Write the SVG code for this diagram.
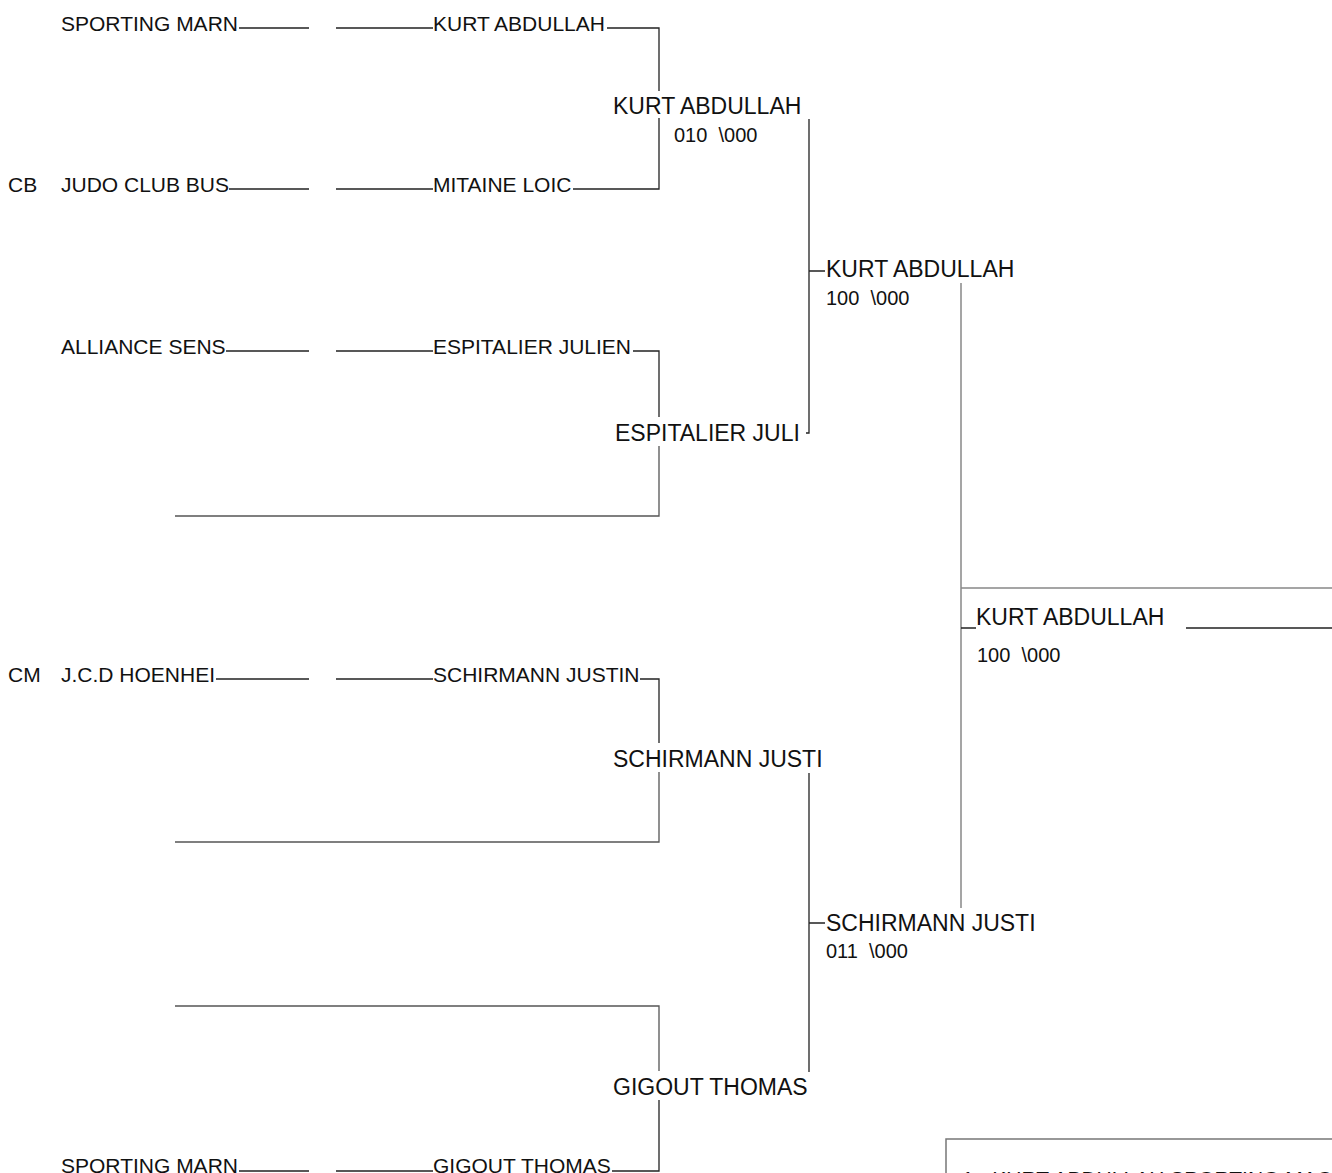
<svg xmlns="http://www.w3.org/2000/svg" width="1332" height="1173" viewBox="0 0 1332 1173">
<style>
text{font-family:"Liberation Sans",Arial,sans-serif;fill:#111}
.s{font-size:21px}
.b{font-size:23px}
.sc{font-size:20px;white-space:pre}
.ln{stroke:#222;stroke-width:1.3;fill:none}
.lg{stroke:#555;stroke-width:1.3;fill:none}
.lt{stroke:#888;stroke-width:1.5;fill:none}
</style>
<rect width="1332" height="1173" fill="#fff"/>
<g id="connectors">
<path class="ln" d="M239,28 H309 M336,28 H433 M607,28 H659 V91"/>
<path class="ln" d="M659,118 V189 H573 M336,189 H433 M229,189 H309"/>
<path class="ln" d="M226,351 H309 M336,351 H433 M633,351 H659 V417"/>
<path class="lg" d="M659,446 V516 H175"/>
<path class="ln" d="M216,679 H309 M336,679 H433 M640,679 H659 V743"/>
<path class="lg" d="M659,772 V842 H175"/>
<path class="lg" d="M175,1006 H659 V1071"/>
<path class="ln" d="M659,1100 V1171 H612 M336,1171 H433 M239,1171 H309"/>
<path class="ln" d="M809,119 V433 H806 M809,271 H825"/>
<path class="ln" d="M809,773 V1072 M809,923 H825"/>
<path class="lt" d="M961,283 V908 M961,588 H1332"/>
<path class="ln" d="M961,628 H976 M1186,628 H1332"/>
</g>
<g id="club-1"><text class="s" x="61" y="31">SPORTING MARN</text></g>
<g id="club-2"><text class="s" x="8" y="192">CB</text><text class="s" x="61" y="192">JUDO CLUB BUS</text></g>
<g id="club-3"><text class="s" x="61" y="354">ALLIANCE SENS</text></g>
<g id="club-4"><text class="s" x="8" y="682">CM</text><text class="s" x="61" y="682">J.C.D HOENHEI</text></g>
<g id="club-5"><text class="s" x="61" y="1173">SPORTING MARN</text></g>
<g id="player-1"><text class="s" x="433" y="31">KURT ABDULLAH</text></g>
<g id="player-2"><text class="s" x="433" y="192">MITAINE LOIC</text></g>
<g id="player-3"><text class="s" x="433" y="354">ESPITALIER JULIEN</text></g>
<g id="player-4"><text class="s" x="433" y="682">SCHIRMANN JUSTIN</text></g>
<g id="player-5"><text class="s" x="433" y="1173">GIGOUT THOMAS</text></g>
<g id="r1-winner-1"><text class="b" x="613" y="114">KURT ABDULLAH</text><text class="sc" x="674" y="142">010  \000</text></g>
<g id="r1-winner-2"><text class="b" x="615" y="441">ESPITALIER JULI</text></g>
<g id="r1-winner-3"><text class="b" x="613" y="767">SCHIRMANN JUSTI</text></g>
<g id="r1-winner-4"><text class="b" x="613" y="1095">GIGOUT THOMAS</text></g>
<g id="r2-winner-1"><text class="b" x="826" y="277">KURT ABDULLAH</text><text class="sc" x="826" y="305">100  \000</text></g>
<g id="r2-winner-2"><text class="b" x="826" y="931">SCHIRMANN JUSTI</text><text class="sc" x="826" y="958">011  \000</text></g>
<g id="final-winner"><text class="b" x="976" y="625">KURT ABDULLAH</text><text class="sc" x="977" y="662">100  \000</text></g>
<g id="podium"><rect x="946" y="1139" width="500" height="100" fill="none" stroke="#777" stroke-width="1.5"/><text class="s" x="962" y="1186">1 - KURT ABDULLAH SPORTING MAC</text></g>
</svg>
